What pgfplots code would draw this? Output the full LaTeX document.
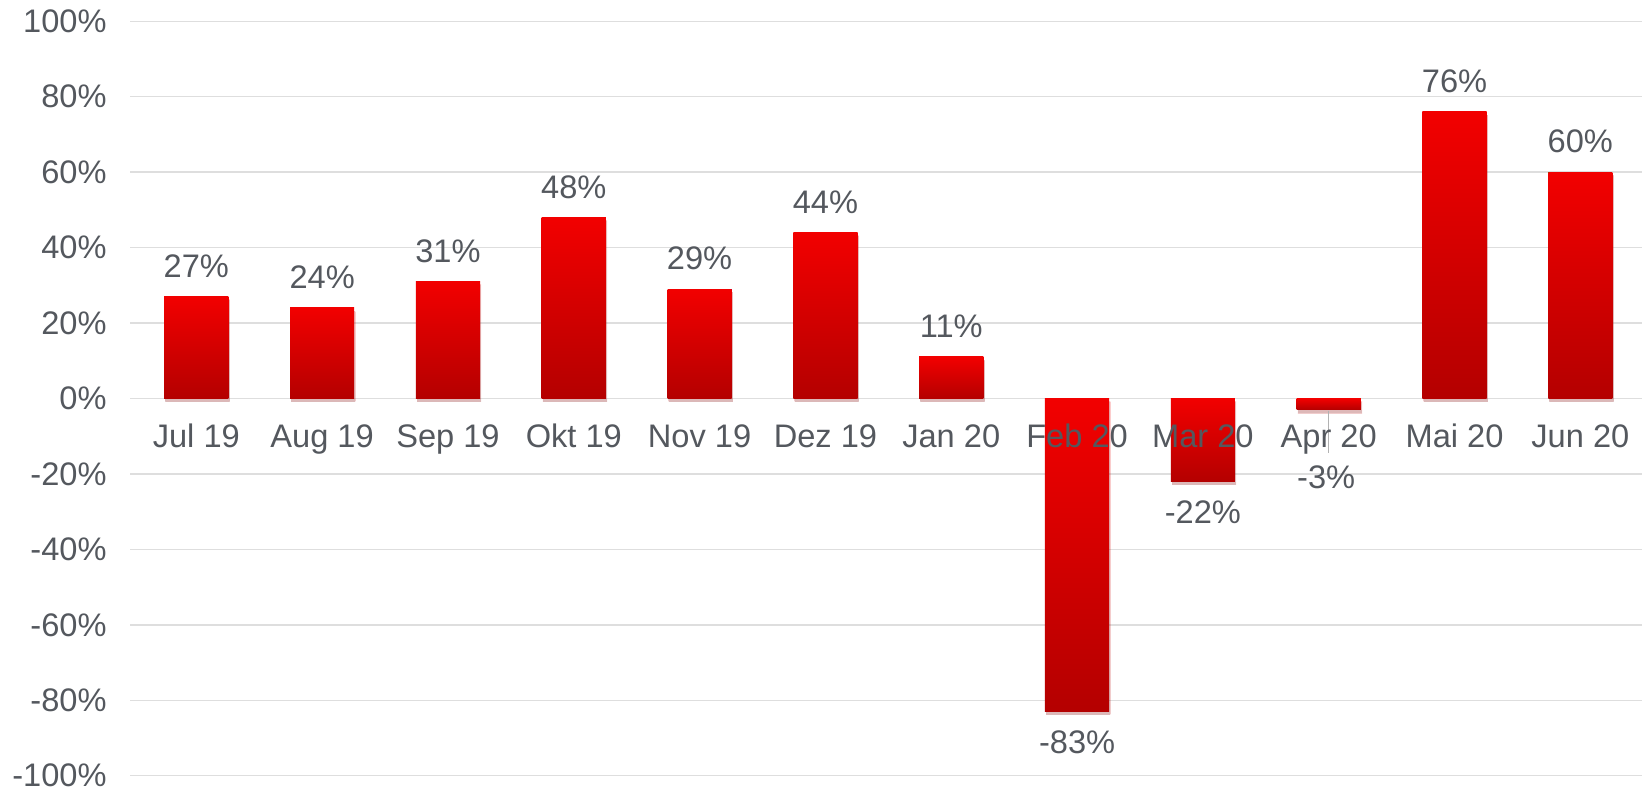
\documentclass[border=0pt]{standalone}
\usepackage{pgfplots}
\pgfplotsset{compat=1.18}
\usepackage{fontspec}
\setmainfont{Liberation Sans}
\usetikzlibrary{shadows}

\definecolor{txt}{RGB}{84,88,94}
\definecolor{gridc}{RGB}{222,222,222}
\definecolor{redtop}{RGB}{242,0,0}
\definecolor{redbot}{RGB}{180,0,0}

\begin{document}
\begin{tikzpicture}
\begin{axis}[
  at={(0,0)}, anchor=south west,
  scale only axis,
  width=756pt, height=377.2pt,
  set layers,
  ybar, bar width=0.51, bar shift=0pt,
  xmin=-0.527, xmax=11.49,
  ymin=-100, ymax=100,
  axis x line*=middle, axis y line*=left,
  axis line style={draw=none},
  hide obscured x ticks=false, hide obscured y ticks=false,
  major tick length=0pt,
  ytick={-100,-80,...,100},
  ymajorgrids, grid style={gridc, line width=0.75pt},
  yticklabel={\pgfmathprintnumber{\tick}\%},
  xtick={0,...,11},
  xticklabels={Jul 19,Aug 19,Sep 19,Okt 19,Nov 19,Dez 19,Jan 20,Feb 20,Mar 20,Apr 20,Mai 20,Jun 20},
  /pgf/number format/assume math mode=true,
  tick label style={font=\fontsize{16.3}{19}\selectfont, text=txt},
  yticklabel style={anchor=east, xshift=-8.2pt},
  xticklabel style={anchor=north, yshift=-9.4pt, /pgfplots/on layer=axis foreground},
  every axis plot/.append style={draw=none, top color=redtop, bottom color=redbot,
    drop shadow={opacity=0.2, shadow xshift=0.6pt, shadow yshift=-1.6pt}},
  nodes near coords={\pgfmathprintnumber{\pgfplotspointmeta}\%},
  nodes near coords style={font=\fontsize{16.3}{19}\selectfont, text=txt, inner ysep=9.3pt},
]
\addplot coordinates {(0,27)};
\addplot coordinates {(1,24)};
\addplot coordinates {(2,31)};
\addplot coordinates {(3,48)};
\addplot coordinates {(4,29)};
\addplot coordinates {(5,44)};
\addplot coordinates {(6,11)};
\addplot coordinates {(7,-83)};
\addplot coordinates {(8,-22)};
\addplot[nodes near coords={}] coordinates {(9,-3)};
\addplot coordinates {(10,76)};
\addplot coordinates {(11,60)};
\draw[gray!60, line width=0.5pt] (axis cs:9,-3.3) -- (axis cs:9,-14.4);
\node[font=\fontsize{16.3}{19}\selectfont, text=txt] at (axis cs:8.98,-20.8) {-3\%};
\end{axis}
\pgfresetboundingbox
\useasboundingbox (-65pt,-7.15pt) rectangle (756pt,387.85pt);
\end{tikzpicture}
\end{document}
